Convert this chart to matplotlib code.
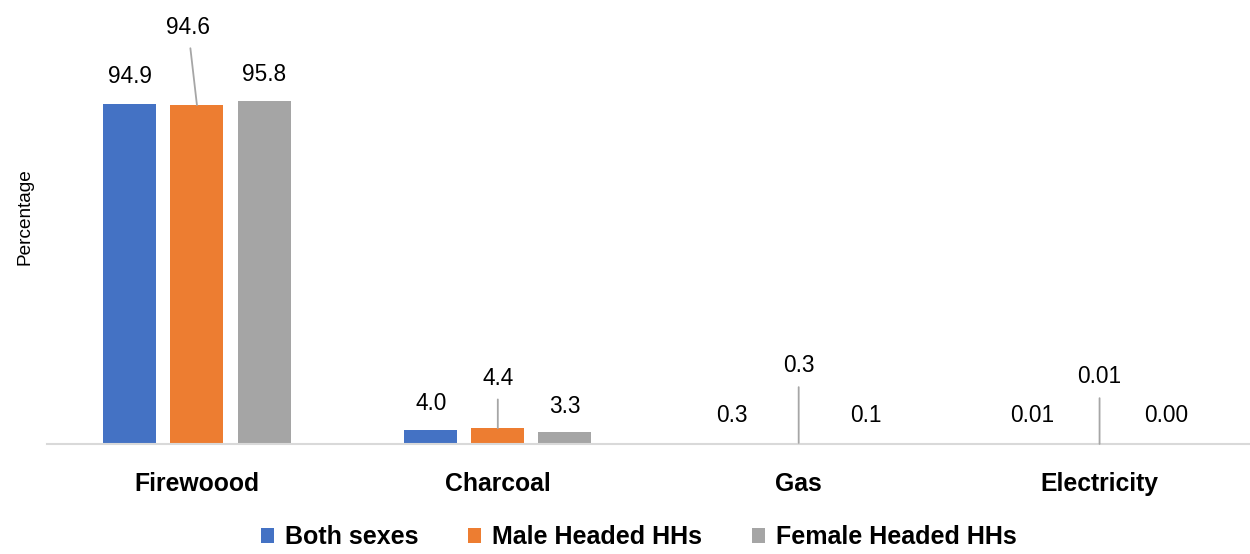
import numpy as np
import matplotlib
matplotlib.use('Agg')
import matplotlib.pyplot as plt
from matplotlib.patches import Patch

plt.rcParams['font.family'] = ['Liberation Sans', 'DejaVu Sans']

# data
categories = ['Firewoood', 'Charcoal', 'Gas', 'Electricity']
series = ['Both sexes', 'Male Headed HHs', 'Female Headed HHs']
both_sexes = [94.9, 4.0, 0.3, 0.01]
male_headed = [94.6, 4.4, 0.3, 0.01]
female_headed = [95.8, 3.3, 0.1, 0.00]
label_decimals = [1, 1, 1, 2]

colors = ['#4472C4', '#ED7D31', '#A5A5A5']

# label offsets in pixels (dx, dy) from the bar top, per series then category
label_offsets = [
    [(0, 27), (0, 26), (0, 27), (0, 28)],
    [(-9, 78), (0, 50), (0, 77), (0, 67)],
    [(0, 26), (0, 26), (0, 28), (0, 28)],
]
leader = [False, True, False]

fig = plt.figure(figsize=(12.5, 5.54), dpi=100)
ax = fig.add_axes([0.0372, 0.1986, 0.9628, 0.776])

x = np.arange(len(categories))
bar_w = 0.176
step = 0.223
values = [both_sexes, male_headed, female_headed]

for s, (vals, col) in enumerate(zip(values, colors)):
    xs = x + (s - 1) * step
    ax.bar(xs, vals, width=bar_w, color=col, zorder=2)
    for i, (xi, v) in enumerate(zip(xs, vals)):
        dx, dy = label_offsets[s][i]
        txt = f'{v:.{label_decimals[i]}f}'
        kw = {}
        if leader[s]:
            kw['arrowprops'] = dict(arrowstyle='-', color='#A6A6A6', lw=1.3,
                                    shrinkA=5, shrinkB=0)
        ax.annotate(txt, xy=(xi, v), xytext=(dx, dy), textcoords='offset pixels',
                    ha='center', va='center', fontsize=16.3, color='#000000', **kw)

ax.set_xlim(-0.5, 3.5)
ax.set_ylim(0, 120)
ax.set_xticks(x)
ax.set_xticklabels(categories, fontsize=17.8, fontweight='bold')
ax.tick_params(axis='x', length=0, pad=20.5)
ax.set_yticks([])
for side in ['left', 'right', 'top']:
    ax.spines[side].set_visible(False)
ax.spines['bottom'].set_color('#D9D9D9')
ax.spines['bottom'].set_linewidth(1.5)

fig.text(0.02, 0.609, 'Percentage', rotation=90, ha='center', va='center', fontsize=13.7)

handles = [Patch(facecolor=c, edgecolor='none') for c in colors]
fig.legend(handles, series, loc='center', bbox_to_anchor=(0.511, 0.03), ncol=3,
           frameon=False, prop={'size': 18, 'weight': 'bold'},
           handlelength=0.5, handleheight=0.5, handletextpad=0.45, columnspacing=2.0,
           borderpad=0.1)

fig.savefig('out.png', dpi=100)
